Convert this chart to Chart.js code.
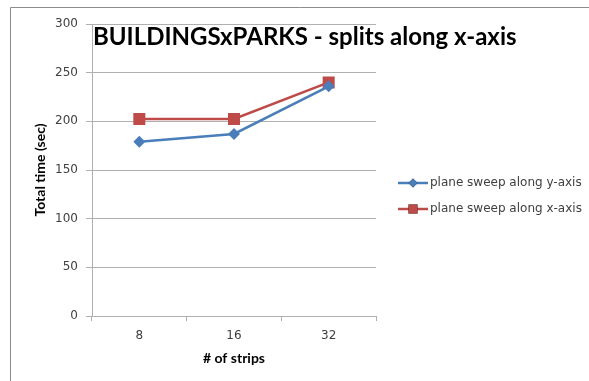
<!DOCTYPE html>
<html>
<head>
<meta charset="utf-8">
<script src="https://cdn.jsdelivr.net/npm/chart.js@4/dist/chart.umd.min.js"></script>
<style>
  html, body { margin: 0; padding: 0; background: #fff; }
  #wrap { width: 589px; height: 381px; }
</style>
</head>
<body>
<div id="wrap"><canvas id="c" width="589" height="381"></canvas></div>
<script>
// Number of strips (categories along the x axis)
const strips = ['8', '16', '32'];
// Total time in seconds for each plane-sweep direction
const sweepY = [179, 187, 236];
const sweepX = [202.5, 202.5, 240];
// Y axis tick values
const yTicks = [0, 50, 100, 150, 200, 250, 300];

const chartTitle = 'BUILDINGSxPARKS - splits along x-axis';
const FONT = 'Lato, "Open Sans", sans-serif';
const WIDE = '"DejaVu Sans", sans-serif';
const TEXT = '#404040';
const GRID = '#b0b0b0';

// Outer frame around the figure
const framePlugin = {
  id: 'frame',
  beforeDraw(chart) {
    const ctx = chart.ctx;
    ctx.save();
    ctx.fillStyle = '#fff';
    ctx.fillRect(0, 0, chart.width, chart.height);
    ctx.strokeStyle = '#8c8c8c';
    ctx.lineWidth = 1;
    ctx.beginPath();
    ctx.moveTo(10.5, chart.height + 2);
    ctx.lineTo(10.5, 7.5);
    ctx.lineTo(chart.width + 2, 7.5);
    ctx.stroke();
    ctx.restore();
  }
};

// Title drawn over the top of the plot area
const titlePlugin = {
  id: 'overTitle',
  afterDraw(chart) {
    const ctx = chart.ctx;
    ctx.save();
    ctx.font = 'bold 24px ' + FONT;
    ctx.fillStyle = '#000';
    ctx.textBaseline = 'middle';
    ctx.textAlign = 'left';
    ctx.fillText(chartTitle, chart.chartArea.left + 1, 37);
    ctx.restore();
  }
};

// Legend at the right: line with marker, then label
const legendPlugin = {
  id: 'sideLegend',
  afterDraw(chart) {
    const ctx = chart.ctx;
    const x0 = 398, x1 = 428, ys = [183, 209];
    chart.data.datasets.forEach((ds, i) => {
      const y = ys[i];
      ctx.save();
      ctx.strokeStyle = ds.borderColor;
      ctx.lineWidth = ds.borderWidth;
      ctx.beginPath();
      ctx.moveTo(x0, y);
      ctx.lineTo(x1, y);
      ctx.stroke();
      Chart.helpers.drawPoint(ctx, {
        pointStyle: ds.pointStyle,
        radius: ds.pointRadius * 0.75,
        borderWidth: 0
      }, (x0 + x1) / 2, y);
      ctx.fillStyle = ds.pointBackgroundColor;
      ctx.fill();
      ctx.font = '12px ' + WIDE;
      ctx.fillStyle = TEXT;
      ctx.textBaseline = 'middle';
      ctx.textAlign = 'left';
      ctx.fillText(ds.label, x1 + 2, y);
      ctx.restore();
    });
  }
};

new Chart(document.getElementById('c'), {
  type: 'line',
  data: {
    labels: strips,
    datasets: [
      {
        label: 'plane sweep along y-axis',
        data: sweepY,
        borderColor: '#4a7ebb',
        backgroundColor: '#4a7ebb',
        pointBackgroundColor: '#4a7ebb',
        pointBorderColor: '#4a7ebb',
        borderWidth: 2.5,
        pointStyle: 'rectRot',
        pointRadius: 6,
        pointBorderWidth: 0,
        tension: 0
      },
      {
        label: 'plane sweep along x-axis',
        data: sweepX,
        borderColor: '#be4b48',
        backgroundColor: '#be4b48',
        pointBackgroundColor: '#be4b48',
        pointBorderColor: '#be4b48',
        borderWidth: 2.5,
        pointStyle: 'rect',
        pointRadius: 8.5,
        pointBorderWidth: 0,
        tension: 0
      }
    ]
  },
  options: {
    responsive: false,
    animation: false,
    devicePixelRatio: 1,
    layout: { padding: { left: 32, right: 213, top: 24, bottom: 14 } },
    plugins: {
      legend: { display: false },
      title: { display: false },
      tooltip: { enabled: false }
    },
    scales: {
      x: {
        type: 'category',
        offset: true,
        grid: {
          offset: true,
          drawOnChartArea: false,
          drawTicks: true,
          tickLength: 5,
          color: GRID
        },
        border: { color: GRID, width: 1 },
        ticks: {
          color: TEXT,
          font: { family: WIDE, size: 12 },
          padding: 8
        },
        title: {
          display: true,
          text: '# of strips',
          color: '#000',
          font: { family: FONT, size: 14, weight: 'bold' },
          padding: { top: 2, bottom: 0 }
        },
        afterFit(scale) { scale.height = 51; }
      },
      y: {
        min: 0,
        max: 300,
        afterBuildTicks(scale) { scale.ticks = yTicks.map(v => ({ value: v })); },
        grid: {
          color: GRID,
          drawTicks: true,
          tickLength: 6
        },
        border: { color: GRID, width: 1 },
        ticks: {
          color: TEXT,
          font: { family: WIDE, size: 12 },
          padding: 8
        },
        title: {
          display: true,
          text: 'Total time (sec)',
          color: '#000',
          font: { family: FONT, size: 14, weight: 'bold' },
          padding: { top: 0, bottom: 4 }
        },
        afterFit(scale) { scale.width = 60; }
      }
    }
  },
  plugins: [framePlugin, titlePlugin, legendPlugin]
});
</script>
</body>
</html>
